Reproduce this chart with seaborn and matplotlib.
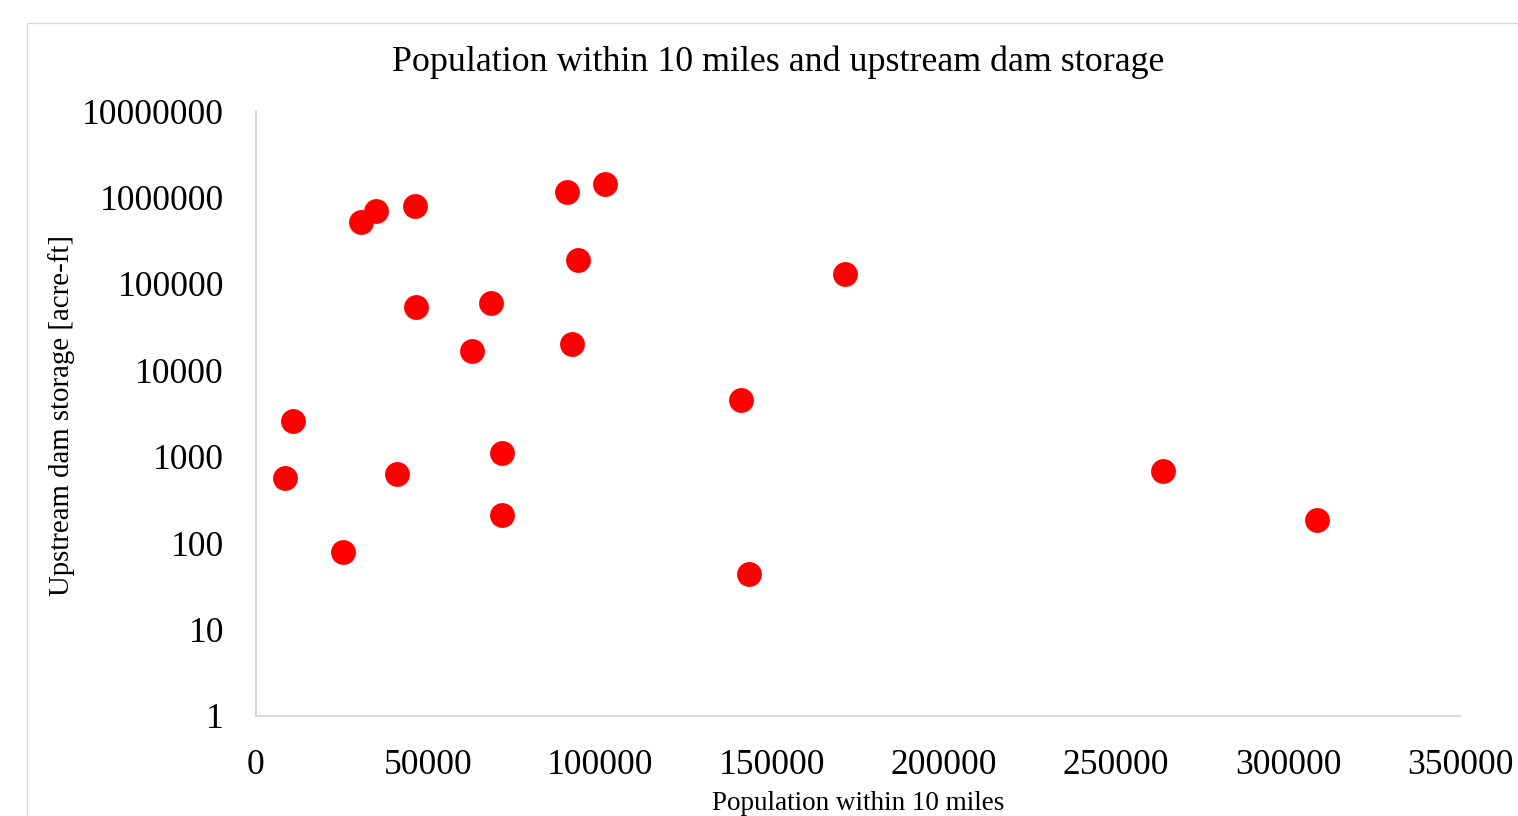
import numpy as np
import pandas as pd
import seaborn as sns
import matplotlib.pyplot as plt
from matplotlib.patches import Rectangle

# population within 10 miles vs upstream dam storage
population = [8400, 10800, 25300, 30500, 34900, 41000, 46200, 46500, 62800, 68300,
              71500, 71500, 90400, 91900, 93600, 101500, 141000, 143300, 171200,
              263700, 308400]
storage = [570, 2600, 80, 520000, 700000, 630, 800000, 54000, 16700, 60000,
           1100, 210, 1160000, 20000, 190000, 1430000, 4500, 44, 130000,
           680, 185]

x_ticks = [0, 50000, 100000, 150000, 200000, 250000, 300000, 350000]
y_ticks = [1, 10, 100, 1000, 10000, 100000, 1000000, 10000000]

df = pd.DataFrame({'pop': population, 'storage': storage})

sns.set_style('white')
plt.rcParams['font.family'] = ['Liberation Serif', 'DejaVu Serif']

fig = plt.figure(figsize=(15.18, 8.16), dpi=100)
# light frame around the chart area, cut off by the picture edge
fig.patches.append(Rectangle((27 / 1518, -0.1), 1.2, 1 - 23 / 816 + 0.1,
                             transform=fig.transFigure, fill=False,
                             edgecolor='#d9d9d9', linewidth=1))

ax = fig.add_axes([256 / 1518, 1 - 716 / 816, (1460 - 256) / 1518, (716 - 111) / 816])
sns.scatterplot(data=df, x='pop', y='storage', ax=ax, color='#ff0000',
                s=320, linewidth=0, zorder=3)

ax.set_yscale('log')
ax.set_xlim(0, 350000)
ax.set_ylim(1, 10000000)
ax.set_xticks(x_ticks)
ax.set_xticklabels([str(t) for t in x_ticks])
ax.set_yticks(y_ticks)
ax.set_yticklabels([str(t) for t in y_ticks])
ax.minorticks_off()
ax.tick_params(axis='both', length=0, labelsize=25.6, colors='black')
ax.tick_params(axis='y', pad=23)
ax.tick_params(axis='x', pad=24)

for side in ['top', 'right']:
    ax.spines[side].set_visible(False)
for side in ['left', 'bottom']:
    ax.spines[side].set_color('#d9d9d9')
    ax.spines[side].set_linewidth(1.5)

ax.set_xlabel('')
ax.set_ylabel('')
fig.text(858 / 1518, 1 - 804 / 816, 'Population within 10 miles', ha='center', va='center',
         fontsize=19.5, color='black')
fig.text(62 / 1518, 1 - 415 / 816, 'Upstream dam storage [acre-ft]', ha='center', va='center',
         rotation=90, fontsize=20.8, color='black')
fig.text(778 / 1518, 1 - 62 / 816, 'Population within 10 miles and upstream dam storage',
         ha='center', va='center', fontsize=25.8, color='black')

fig.savefig('out.png', dpi=100)
